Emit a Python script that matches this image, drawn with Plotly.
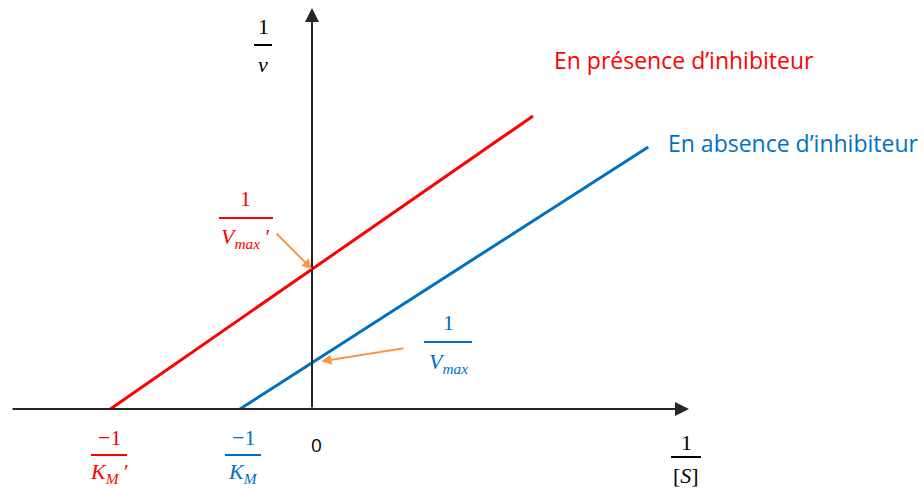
import plotly.graph_objects as go

# Lineweaver-Burk lines (x = 1/[S], y = 1/v), in arbitrary units
absence_x = [-1.0, 4.67]
absence_y = [0.0, 3.64]
presence_x = [-2.8, 3.07]
presence_y = [0.0, 4.07]

# intercepts
inv_vmax = absence_y[1] * (-absence_x[0]) / (absence_x[1] - absence_x[0])
inv_vmax_p = presence_y[1] * (-presence_x[0]) / (presence_x[1] - presence_x[0])

W, H = 924, 488
UNIT = 72.0          # pixels per data unit
OX, OY = 312.0, 409.0  # origin in pixels

RED = "#FF0000"
BLUE = "#0070C0"
ORANGE = "#F79646"
AXIS = "#262626"
SERIF = "Liberation Serif"
SANS = "Open Sans"


def px(x):
    return x / W


def py(y):
    return 1 - y / H


fig = go.Figure()
fig.add_trace(go.Scatter(x=presence_x, y=presence_y, mode="lines",
                         line=dict(color=RED, width=3), hoverinfo="skip"))
fig.add_trace(go.Scatter(x=absence_x, y=absence_y, mode="lines",
                         line=dict(color=BLUE, width=3), hoverinfo="skip"))

ann = []
shapes = []

# axes with arrow heads
ann.append(dict(x=(689 - OX) / UNIT, y=0, ax=(11 - OX) / UNIT, ay=0,
                xref="x", yref="y", axref="x", ayref="y", text="",
                showarrow=True, arrowhead=2, arrowsize=1.4, arrowwidth=2,
                arrowcolor=AXIS, standoff=0, startstandoff=0))
ann.append(dict(x=0, y=(OY - 8) / UNIT, ax=0, ay=0,
                xref="x", yref="y", axref="x", ayref="y", text="",
                showarrow=True, arrowhead=2, arrowsize=1.4, arrowwidth=2,
                arrowcolor=AXIS, standoff=0, startstandoff=0))

# orange pointers to the y intercepts
ann.append(dict(x=0, y=inv_vmax_p, ax=(275 - OX) / UNIT, ay=(OY - 232) / UNIT,
                xref="x", yref="y", axref="x", ayref="y", text="",
                showarrow=True, arrowhead=2, arrowsize=1.0, arrowwidth=2,
                arrowcolor=ORANGE, standoff=0))
ann.append(dict(x=0.13, y=inv_vmax + 0.02, ax=(405 - OX) / UNIT, ay=(OY - 348) / UNIT,
                xref="x", yref="y", axref="x", ayref="y", text="",
                showarrow=True, arrowhead=2, arrowsize=1.0, arrowwidth=2,
                arrowcolor=ORANGE, standoff=0))


def text(x, y, s, color, size=22, family=SERIF, xanchor="center"):
    ann.append(dict(x=px(x), y=py(y), xref="paper", yref="paper", text=s,
                    showarrow=False, xanchor=xanchor, yanchor="middle",
                    font=dict(family=family, size=size, color=color)))


def bar(x0, x1, y, color):
    shapes.append(dict(type="line", xref="paper", yref="paper",
                       x0=px(x0), x1=px(x1), y0=py(y), y1=py(y),
                       line=dict(color=color, width=2)))


def fraction(cx, y_num, y_bar, y_den, half, num, den, color):
    text(cx, y_num, num, color)
    bar(cx - half, cx + half, y_bar, color)
    text(cx, y_den, den, color)


# 1/v
fraction(263, 27, 45, 64, 9, "1", "<i>v</i>", "#000000")
# 1/[S]
fraction(686, 442, 457, 475, 15, "1", "[<i>S</i>]", "#000000")
# 1/Vmax'
fraction(246, 198, 218, 238, 27, "1",
         "<i>V</i><sub><i>max</i></sub> ʹ", RED)
# 1/Vmax
fraction(448, 322, 342, 363, 24, "1",
         "<i>V</i><sub><i>max</i></sub>", BLUE)
# -1/KM'
fraction(109, 437, 455, 473, 18, "−1",
         "<i>K</i><sub><i>M</i></sub> ʹ", RED)
# -1/KM
fraction(243, 437, 455, 473, 18, "−1",
         "<i>K</i><sub><i>M</i></sub>", BLUE)
# origin
text(316, 445, "0", "#000000", size=19, family=SANS)

# series labels
text(552, 60, "En présence d’inhibiteur", RED, size=23, family=SANS, xanchor="left")
text(666, 143, "En absence d’inhibiteur", BLUE, size=23, family=SANS, xanchor="left")

fig.update_layout(
    width=W, height=H,
    margin=dict(l=0, r=0, t=0, b=0),
    paper_bgcolor="white", plot_bgcolor="white",
    showlegend=False,
    xaxis=dict(range=[-OX / UNIT, (W - OX) / UNIT], visible=False, fixedrange=True),
    yaxis=dict(range=[(OY - H) / UNIT, OY / UNIT], visible=False, fixedrange=True),
    annotations=ann,
    shapes=shapes,
)

fig.write_html("out.html", config={"displayModeBar": False})
